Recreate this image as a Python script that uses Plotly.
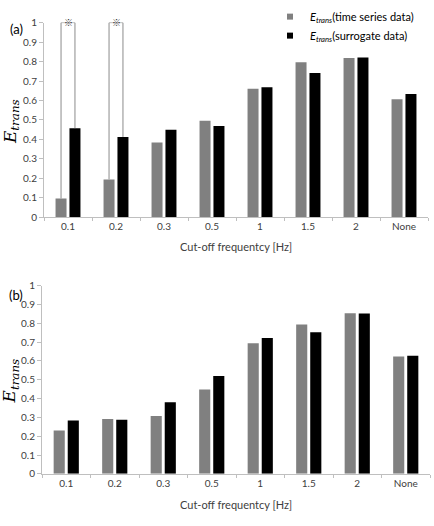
import plotly.graph_objects as go

# ---------------- data ----------------
categories = ["0.1", "0.2", "0.3", "0.5", "1", "1.5", "2", "None"]
a_time_series = [0.097, 0.195, 0.384, 0.496, 0.661, 0.796, 0.818, 0.606]
a_surrogate = [0.458, 0.413, 0.450, 0.469, 0.668, 0.741, 0.821, 0.633]
b_time_series = [0.230, 0.292, 0.308, 0.448, 0.694, 0.793, 0.853, 0.624]
b_surrogate = [0.283, 0.287, 0.380, 0.520, 0.722, 0.753, 0.852, 0.627]
a_significant = ["0.1", "0.2"]
y_ticks = [0, 0.1, 0.2, 0.3, 0.4, 0.5, 0.6, 0.7, 0.8, 0.9, 1]
y_ticktext = ["0", "0.1", "0.2", "0.3", "0.4", "0.5", "0.6", "0.7", "0.8", "0.9", "1"]

name_ts = "<i>E</i><sub><i>trans</i></sub>(time series data)"
name_sg = "<i>E</i><sub><i>trans</i></sub>(surrogate data)"

GRAY = "#808080"
BLACK = "#000000"
W, H = 434, 526
FONT = "Lato"
TXT = "#404040"
AX = "#bfbfbf"

BARGAP = 0.42
BARGROUPGAP = 0.21

fig = go.Figure()

for xa, ya, ts, sg in [("x", "y", a_time_series, a_surrogate),
                       ("x2", "y2", b_time_series, b_surrogate)]:
    fig.add_trace(go.Bar(x=categories, y=ts, marker_color=GRAY, xaxis=xa, yaxis=ya,
                         showlegend=False, name=name_ts, marker_line_width=0))
    fig.add_trace(go.Bar(x=categories, y=sg, marker_color=BLACK, xaxis=xa, yaxis=ya,
                         showlegend=False, name=name_sg, marker_line_width=0))

# legend entries (small square markers)
fig.add_trace(go.Scatter(x=[None], y=[None], mode="markers", name=name_ts,
                         marker=dict(symbol="square", size=6, color=GRAY)))
fig.add_trace(go.Scatter(x=[None], y=[None], mode="markers", name=name_sg,
                         marker=dict(symbol="square", size=6, color=BLACK)))

# significance brackets for panel (a)
slot = (1 - BARGAP) / 2
off = slot / 2
shapes = []
annotations = []
for cat in a_significant:
    i = categories.index(cat)
    g = a_time_series[i]
    b = a_surrogate[i]
    line = dict(color="#8c8c8c", width=1)
    shapes.append(dict(type="line", xref="x", yref="y", x0=i - off, x1=i - off, y0=g, y1=1, line=line))
    shapes.append(dict(type="line", xref="x", yref="y", x0=i - off, x1=i + off, y0=1, y1=1, line=line))
    shapes.append(dict(type="line", xref="x", yref="y", x0=i + off, x1=i + off, y0=1, y1=b, line=line))
    annotations.append(dict(x=i, y=1, xref="x", yref="y", text="<b>※</b>", showarrow=False,
                            xanchor="center", yanchor="middle",
                            font=dict(size=9, color="#303030", family="Noto Sans CJK JP")))

def px_x(p):
    return p / W

def px_y(p):
    return 1 - p / H

# y-axis titles and panel labels
for yc, lbl, ly in [(118, "(a)", 23), (384, "(b)", 295)]:
    annotations.append(dict(x=px_x(11), y=px_y(yc), xref="paper", yref="paper",
                            xanchor="center", yanchor="middle",
                            text="<i>E</i><sub><i>trans</i></sub>", textangle=-90,
                            showarrow=False, font=dict(size=17, family="DejaVu Serif", color="#000")))
    annotations.append(dict(x=px_x(16), y=px_y(ly), xref="paper", yref="paper",
                            xanchor="center", yanchor="middle",
                            text=lbl, showarrow=False,
                            font=dict(size=13, family=FONT, color="#000")))
# x-axis titles
for yc in [246, 510]:
    annotations.append(dict(x=px_x(236), y=px_y(yc), xref="paper", yref="paper",
                            xanchor="center", yanchor="middle",
                            text="Cut-off frequentcy [Hz]", showarrow=False,
                            font=dict(size=11, family=FONT, color=TXT)))

xaxis_common = dict(type="category", showline=True, linecolor=AX, linewidth=1,
                    ticks="outside", tickson="boundaries", ticklen=3, tickcolor=AX,
                    tickfont=dict(size=10, family=FONT, color=TXT), showgrid=False,
                    zeroline=False, fixedrange=True)
yaxis_common = dict(range=[0, 1], showline=True, linecolor=AX, linewidth=1,
                    ticks="outside", ticklen=4, tickcolor=AX, tickvals=y_ticks, ticktext=y_ticktext,
                    tickfont=dict(size=10, family=FONT, color=TXT), showgrid=False,
                    zeroline=False, fixedrange=True)

fig.update_layout(
    width=W, height=H,
    margin=dict(l=0, r=0, t=0, b=0),
    paper_bgcolor="white", plot_bgcolor="white",
    barmode="group", bargap=BARGAP, bargroupgap=BARGROUPGAP,
    xaxis=dict(domain=[px_x(44), px_x(428)], anchor="y", **xaxis_common),
    yaxis=dict(domain=[px_y(215.7), px_y(16)], anchor="x", **yaxis_common),
    xaxis2=dict(domain=[px_x(42), px_x(430)], anchor="y2", **xaxis_common),
    yaxis2=dict(domain=[px_y(478.7), px_y(285.7)], anchor="x2", **yaxis_common),
    shapes=shapes,
    annotations=annotations,
    legend=dict(x=px_x(270), y=px_y(-5), xanchor="left", yanchor="top",
                bgcolor="rgba(0,0,0,0)", font=dict(size=11, family=FONT, color="#000"),
                tracegroupgap=0, itemwidth=30),
    showlegend=True,
)

fig.write_html("out.html")
